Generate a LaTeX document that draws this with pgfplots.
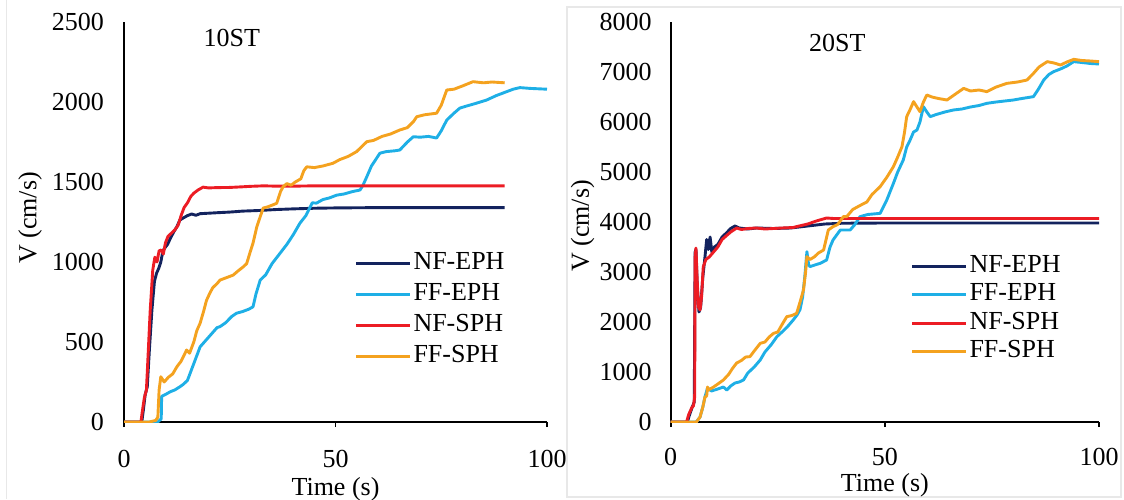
\documentclass[border=0pt]{standalone}
\usepackage{fontspec}
\setmainfont{Liberation Serif}
\usepackage{pgfplots}
\pgfplotsset{compat=1.18}
\definecolor{cNavy}{HTML}{13235E}
\definecolor{cCyan}{HTML}{1EAFE6}
\definecolor{cRed}{HTML}{EC1C24}
\definecolor{cOrange}{HTML}{F4A21F}
\newcommand{\fs}{\fontsize{13}{15.6}\selectfont}
\pgfplotsset{
 myaxis/.style={
  scale only axis, height=200pt,
  axis x line=bottom, axis y line=left,
  axis line style={line width=0.9pt, -},
  xmin=0, xmax=100, xtick={0,50,100}, ymin=0,
  tick align=outside,
  xtick style={line width=0.9pt, black},
  major tick length=2.5pt,
  ytick style={draw=none},
  tick label style={font=\fs},
  label style={font=\fs},
  /pgf/number format/assume math mode=true,
  /pgf/number format/1000 sep={},
  legend style={draw=none, fill=none, font=\fs, inner sep=0pt, row sep=1.5pt,
     nodes={inner sep=1pt, text height=9pt, text depth=3pt}},
  legend cell align=left,
  legend image code/.code={\draw[##1, line width=1.5pt] (0pt,0pt) -- (27pt,0pt);},
  every axis plot/.append style={line width=1.45pt, line join=round},
  xlabel={Time (s)}, ylabel={V (cm/s)},
 }
}
\begin{document}
\begin{tikzpicture}[x=1pt,y=1pt]
\path[use as bounding box] (0,0) rectangle (562,249.5);
\draw[gray!18, line width=0.6pt] (3.4,0) -- (3.4,249.5);
\draw[gray!18, line width=0.6pt] (283.5,1) rectangle (560.5,246);
% ---------------- 10ST ----------------
\begin{axis}[myaxis, at={(62pt,38.5pt)}, anchor=south west, width=211.5pt,
  ymax=2500, ytick={0,500,...,2500},
  yticklabel style={xshift=-4pt},
  xticklabel style={inner sep=0pt, yshift=-11.5pt},
  xlabel style={at={(axis description cs:0.5,0)}, anchor=center, inner sep=0pt, yshift=-33.5pt},
  ylabel style={at={(axis description cs:-0.222,0.51)}, anchor=center},
  legend style={at={(axis cs:54.4,1082)}, anchor=north west}]
\addplot[cNavy] coordinates {(0,0) (4.2,0) (4.6,80) (5.0,170) (5.5,220) (6.0,450) (6.6,700) (7.2,880) (7.7,930) (8.2,960) (8.7,1000) (9.2,1070) (9.7,1090) (10.3,1110) (11,1150) (11.8,1190) (12.5,1220) (13.2,1262) (14,1275) (15,1290) (16,1300) (17,1292) (18,1302) (20,1305) (22,1308) (25,1312) (28,1318) (32,1322) (36,1328) (40,1332) (45,1336) (50,1338) (60,1340) (90,1340)};
\addlegendentry{NF-EPH}
\addplot[cCyan] coordinates {(0,0) (8.0,0) (8.8,20) (8.9,160) (10,175) (11,190) (12,200) (13.2,220) (14,235) (15,260) (16,330) (17,400) (18,470) (19,500) (20,530) (21,560) (22,590) (22.7,596) (24,620) (25.5,660) (26.6,680) (28,690) (29.5,705) (30.5,720) (31.2,800) (32.2,887) (33.5,920) (35,990) (36.9,1055) (38.5,1110) (40,1170) (41.6,1243) (43,1290) (44.5,1370) (45.5,1368) (47,1390) (48.5,1400) (50.3,1418) (52,1425) (54,1440) (55.8,1450) (56.5,1480) (57.4,1533) (58.5,1600) (60.5,1680) (62,1690) (64,1695) (65.2,1700) (67,1750) (68.4,1783) (70,1780) (72,1785) (73.9,1775) (75,1820) (76.3,1887) (78,1930) (79.4,1962) (81,1975) (83,1990) (85.7,2012) (88,2040) (90.5,2065) (92,2080) (93.6,2090) (96,2085) (100,2080)};
\addlegendentry{FF-EPH}
\addplot[cRed] coordinates {(0,0) (4.0,0) (4.3,60) (4.8,150) (5.3,200) (5.7,420) (6.2,700) (6.8,950) (7.3,1030) (7.8,1000) (8.3,1070) (8.8,1075) (9.3,1050) (9.8,1120) (10.4,1160) (11.2,1180) (12.0,1200) (12.8,1230) (13.5,1290) (14.2,1340) (15.0,1370) (15.8,1410) (16.5,1430) (17.5,1450) (18.7,1468) (20,1463) (22,1465) (25,1466) (28,1470) (30,1473) (33,1476) (36,1474) (40,1474) (45,1476) (50,1476) (60,1476) (70,1476) (80,1476) (90,1476)};
\addlegendentry{NF-SPH}
\addplot[cOrange] coordinates {(0,0) (6,0) (7.5,10) (8.0,30) (8.3,200) (8.7,283) (9.5,250) (10.5,280) (11.5,300) (12.5,345) (13.5,380) (14.8,450) (15.5,430) (16.5,500) (17.2,570) (18,618) (18.8,690) (19.5,760) (20.3,806) (21,840) (22,865) (22.7,887) (24,900) (25.8,918) (27,945) (28.2,970) (29,990) (29.8,1060) (30.5,1118) (31.4,1220) (32.2,1283) (32.9,1337) (34,1345) (35,1355) (36.1,1367) (37.0,1440) (37.6,1470) (38.5,1490) (39.5,1480) (40.5,1500) (41.8,1520) (42.5,1570) (43.2,1595) (45,1590) (47,1600) (49.4,1617) (51,1640) (53,1660) (55,1690) (57.4,1752) (59,1760) (61,1785) (63,1800) (65.2,1825) (67,1840) (68.5,1880) (69.2,1908) (71,1920) (73.9,1930) (75,1980) (76.3,2075) (78,2080) (80,2100) (82.5,2127) (85,2120) (87,2125) (90,2120)};
\addlegendentry{FF-SPH}
\node[font=\fs] at (axis cs:25.5,2400) {10ST};
\end{axis}
% ---------------- 20ST ----------------
\begin{axis}[myaxis, at={(335.35pt,38.5pt)}, anchor=south west, width=214.15pt,
  ymax=8000, ytick={0,1000,...,8000},
  yticklabel style={xshift=-3.5pt},
  xticklabel style={inner sep=0pt, yshift=-10.3pt},
  xlabel style={at={(axis description cs:0.5,0)}, anchor=center, inner sep=0pt, yshift=-31.5pt},
  ylabel style={at={(axis description cs:-0.2056,0.49)}, anchor=center},
  legend style={at={(axis cs:55.9,3405)}, anchor=north west, row sep=0.25pt}]
\addplot[cNavy] coordinates {(0,0) (3.9,0) (4.3,120) (5.0,290) (5.5,400) (5.7,3400) (5.9,3450) (6.2,2700) (6.6,2200) (7.0,2300) (7.5,2900) (8.0,3300) (8.4,3650) (8.8,3450) (9.2,3700) (9.6,3400) (10.2,3500) (11,3550) (12,3700) (13,3780) (14,3870) (15.0,3920) (16,3880) (18,3860) (20,3880) (24,3870) (28,3880) (32,3920) (36,3960) (40,3975) (50,3980) (100,3980)};
\addlegendentry{NF-EPH}
\addplot[cCyan] coordinates {(0,0) (6,0) (6.85,100) (7.5,300) (8.0,500) (8.6,680) (9.5,620) (11,660) (12.3,700) (13.1,640) (14,720) (15,780) (16,800) (17,840) (18,980) (19.5,1100) (20.9,1240) (22,1400) (23.5,1550) (24.8,1707) (26,1800) (27.2,1900) (28.6,2040) (29.5,2140) (30.2,2250) (30.8,2500) (31.3,2900) (31.8,3407) (32.2,3150) (32.5,3107) (34,3150) (34.9,3173) (36.4,3240) (37.2,3500) (37.9,3640) (39.6,3840) (41.9,3840) (43,3950) (44.2,4107) (46,4150) (48.9,4173) (50.5,4450) (52,4773) (53,5000) (54.3,5240) (55.1,5500) (55.9,5640) (56.7,5800) (57.5,5840) (58.2,6000) (59,6307) (59.8,6200) (60.6,6107) (62,6150) (64,6200) (66,6240) (68,6260) (70,6300) (72,6330) (73.8,6373) (76,6400) (78,6420) (80,6440) (82,6470) (84.7,6507) (85.8,6650) (87.1,6840) (88.3,6950) (89.4,7007) (91,7060) (92.5,7120) (94.1,7207) (96,7190) (98,7170) (100,7160)};
\addlegendentry{FF-EPH}
\addplot[cRed] coordinates {(0,0) (3.7,0) (4.2,150) (5.0,300) (5.3,320) (5.6,500) (5.7,3300) (5.9,3480) (6.2,2800) (6.5,2300) (6.85,2240) (7.2,2500) (7.6,3100) (8.2,3250) (9,3300) (10,3400) (11,3500) (12,3650) (13.1,3733) (14,3800) (15.4,3880) (16.5,3850) (18,3870) (20,3880) (22,3860) (24,3870) (26,3880) (28.6,3890) (30,3920) (32,3960) (34,4020) (36.4,4080) (38,4070) (40,4070) (50,4070) (100,4070)};
\addlegendentry{NF-SPH}
\addplot[cOrange] coordinates {(0,0) (6.0,0) (6.85,100) (7.5,300) (8.0,500) (8.4,520) (8.6,700) (8.8,640) (10,700) (11,760) (12.3,840) (13.5,950) (14.5,1080) (15.4,1180) (16.5,1230) (17.5,1300) (18.5,1307) (19.5,1420) (20.9,1573) (22,1600) (23,1700) (24,1773) (25,1800) (26,1950) (27.1,2107) (28.3,2130) (29.4,2173) (30.2,2400) (31,2640) (31.5,3000) (31.8,3307) (32.5,3250) (33.5,3300) (34.5,3380) (35.7,3440) (36.8,3840) (37.9,3907) (39,3950) (40.3,4107) (41.1,4107) (42.5,4250) (44.2,4330) (45.8,4400) (47,4550) (48.9,4707) (50.5,4900) (52,5107) (53,5300) (54,5507) (54.6,5800) (55.1,6107) (55.9,6250) (56.7,6407) (57.5,6300) (58.2,6207) (59,6400) (59.8,6540) (61,6500) (62.5,6470) (64.5,6440) (66.5,6560) (68.4,6673) (70,6620) (72,6640) (73.8,6607) (76,6700) (78.5,6773) (81,6800) (83.2,6840) (84.7,6973) (86,7100) (87.9,7207) (89.5,7180) (91,7140) (92.5,7200) (94.1,7253) (96,7230) (98,7220) (100,7207)};
\addlegendentry{FF-SPH}
\node[font=\fs] at (axis cs:38.9,7580) {20ST};
\end{axis}
\end{tikzpicture}
\end{document}
